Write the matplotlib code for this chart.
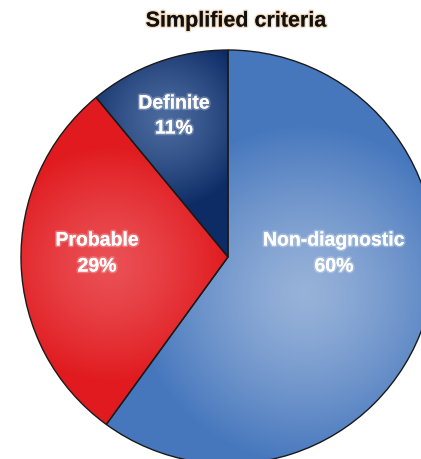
import numpy as np
import matplotlib
matplotlib.use("Agg")
import matplotlib.pyplot as plt
import matplotlib.patheffects as pe
from matplotlib.colors import LinearSegmentedColormap

# Data
categories = ["Definite", "Probable", "Non-diagnostic"]
shares = [11, 29, 60]

W, H = 421, 460
fig = plt.figure(figsize=(W / 100, H / 100), dpi=100)
ax = fig.add_axes([0, 0, 1, 1])

cx, cy, r = 228, H - 258, 207

wedges, _ = ax.pie(shares, center=(cx, cy), radius=r, startangle=90,
                   counterclock=True, frame=True,
                   wedgeprops=dict(edgecolor="#1a1a1a", linewidth=1.0, facecolor="none"))
ax.set_xlim(0, W)
ax.set_ylim(0, H)
ax.set_aspect("equal")
ax.axis("off")

# Radial shading for each slice: (light colour, dark colour, highlight centre in pixels, spread)
shading = [
    ("#4a6a9e", "#0d2c66", (165, 120), 90),
    ("#ea5055", "#e01a1e", (110, 265), 120),
    ("#97b2d9", "#4677bd", (305, 295), 170),
]

xs = np.linspace(0, W, W)
ys = np.linspace(0, H, H)
X, Y = np.meshgrid(xs, ys)
for wedge, (light, dark, (hx, hy), spread) in zip(wedges, shading):
    d = np.hypot(X - hx, Y - (H - hy)) / spread
    d = np.clip(d, 0, 1) ** 1.3
    cmap = LinearSegmentedColormap.from_list("s", [light, dark])
    im = ax.imshow(d, cmap=cmap, extent=(0, W, 0, H), origin="lower",
                   vmin=0, vmax=1, zorder=1, interpolation="bilinear")
    im.set_clip_path(wedge)
    wedge.set_zorder(2)

ax.set_xlim(0, W)
ax.set_ylim(0, H)

font = ["Liberation Sans", "DejaVu Sans"]
glow_w = [pe.withStroke(linewidth=2.5, foreground=(1, 1, 1, 0.25))]

ax.text(236, H - 22, "Simplified criteria", ha="center", va="center",
        fontsize=15.5, fontweight="bold", family=font, color="#111111",
        path_effects=[pe.withStroke(linewidth=2, foreground=(0.85, 0.6, 0.3, 0.35))])

label_pos = [(174, 105, 130), (97, 242, 268), (334, 242, 268)]
for name, val, (lx, ly1, ly2) in zip(categories, shares, label_pos):
    ax.text(lx, H - ly1, name, ha="center", va="center", fontsize=14,
            fontweight="bold", family=font, color="white", zorder=5,
            path_effects=glow_w)
    ax.text(lx, H - ly2, f"{val}%", ha="center", va="center", fontsize=14,
            fontweight="bold", family=font, color="white", zorder=5,
            path_effects=glow_w)

fig.savefig("out.png", dpi=100)
